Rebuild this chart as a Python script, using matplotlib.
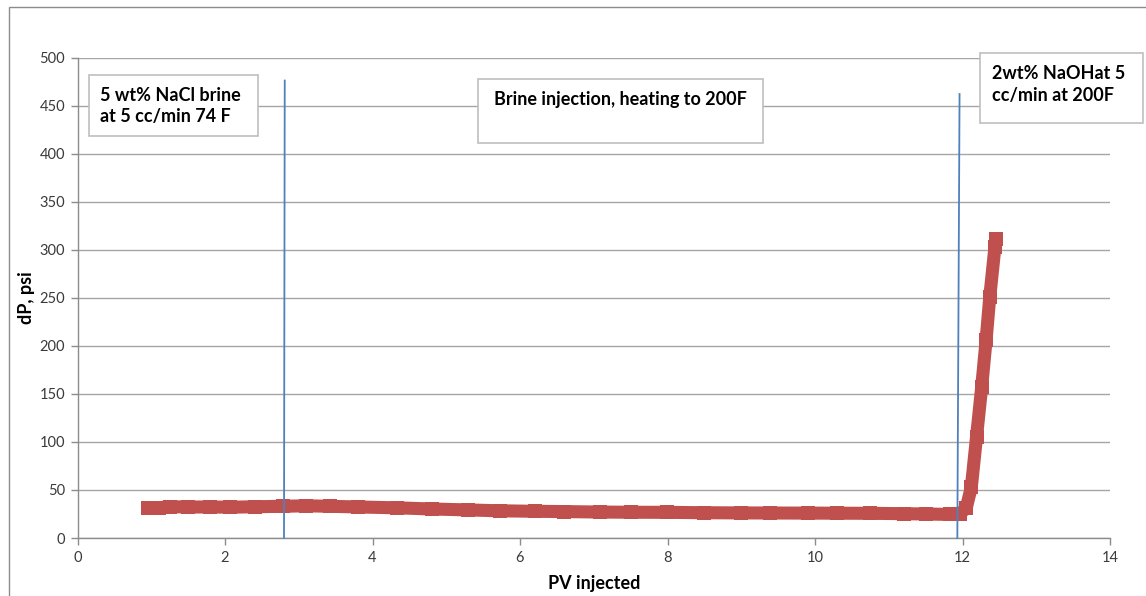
import matplotlib
matplotlib.use("Agg")
import matplotlib.pyplot as plt
from matplotlib.patches import Rectangle

# Pressure drop across the core versus pore volumes injected
pv_injected = [0.96, 1.10, 1.25, 1.50, 1.80, 2.07, 2.40, 2.79, 3.10, 3.42,
               3.80, 4.33, 4.80, 5.30, 5.73, 6.20, 6.60, 7.08, 7.50, 7.99,
               8.50, 9.00, 9.39, 9.90, 10.30, 10.74, 11.20, 11.50, 11.83, 11.96,
               12.05, 12.12, 12.19, 12.26, 12.32, 12.37, 12.44, 12.46]
dp_psi = [30.9, 31.5, 32.6, 32.2, 32.3, 32.0, 32.5, 33.0, 33.5, 33.0,
          32.3, 31.4, 30.2, 29.2, 28.3, 27.8, 27.5, 27.0, 26.8, 26.7,
          26.3, 26.1, 26.0, 25.9, 25.8, 25.7, 25.3, 25.0, 24.5, 25.0,
          31.0, 53.0, 105.0, 157.0, 206.0, 251.0, 303.0, 311.0]

# Stage boundaries (PV) and the height of each marker line (psi)
stage_x_bottom = [2.80, 11.93]
stage_x_top = [2.81, 11.96]
stage_top = [476, 462]

stage_labels = ["5 wt% NaCl brine\nat 5 cc/min 74 F",
                "Brine injection, heating to 200F",
                "2wt% NaOHat 5\ncc/min at 200F"]

x_ticks = list(range(0, 15, 2))
y_ticks = list(range(0, 501, 50))

W, H = 1146, 596
fig = plt.figure(figsize=(W / 100, H / 100), dpi=100)
fig.patch.set_facecolor("white")

def fx(px):
    return px / W

def fy(py):
    return 1 - py / H

ax_l, ax_r, ax_t, ax_b = 77.5, 1110, 57.5, 538
ax = fig.add_axes([fx(ax_l), fy(ax_b), fx(ax_r) - fx(ax_l), fy(ax_t) - fy(ax_b)])
ax.set_xlim(0, 14)
ax.set_ylim(0, 500)
ax.set_xticks(x_ticks)
ax.set_yticks(y_ticks)

grid_c = "#A6A6A6"
ax.yaxis.grid(True, color=grid_c, linewidth=1.0)
ax.set_axisbelow(True)
for s in ["top", "right"]:
    ax.spines[s].set_visible(False)
for s in ["left", "bottom"]:
    ax.spines[s].set_color("#8C8C8C")
    ax.spines[s].set_linewidth(1.0)

ax.tick_params(axis="both", direction="out", length=5, width=1.0, color="#8C8C8C",
               labelsize=10.5, labelcolor="#3A3A3A", pad=4)
for lab in ax.get_xticklabels() + ax.get_yticklabels():
    lab.set_family("Lato")

# Stage separators
for xb, xt, top in zip(stage_x_bottom, stage_x_top, stage_top):
    ax.plot([xb, xt], [0, top], color="#4F81BD", linewidth=1.3, zorder=4,
            clip_on=False)

# dP curve, drawn as densely packed square markers on a thick band
ax.plot(pv_injected, dp_psi, color="#C0504D", linewidth=9.4,
        marker="s", markersize=9.4, markeredgewidth=0,
        solid_capstyle="butt", solid_joinstyle="round", zorder=3)

label_kw = dict(fontsize=13, fontweight="bold", family="Lato", color="black")
ax.set_xlabel("PV injected", **label_kw)
ax.set_ylabel("dP, psi", **label_kw)
ax.xaxis.label.set_va("center")
ax.yaxis.label.set_va("center")
ax.xaxis.set_label_coords(0.5, (ax_b - 583) / (ax_b - ax_t))
ax.yaxis.set_label_coords((26 - ax_l) / (ax_r - ax_l), 0.5)

# Chart area border
fig.patches.append(Rectangle((fx(9), fy(700)), fx(1300) - fx(9), fy(7) - fy(700),
                             transform=fig.transFigure, fill=False,
                             edgecolor="#8C8C8C", linewidth=1.0, zorder=0))

# Annotation boxes
boxes = [(89, 75, 258, 136), (477.7, 79.3, 762.7, 142.7), (980, 53, 1143, 123)]
for (x0, y0, x1, y1) in boxes:
    fig.patches.append(Rectangle((fx(x0), fy(y1)), fx(x1) - fx(x0), fy(y0) - fy(y1),
                                 transform=fig.transFigure, facecolor="white",
                                 edgecolor="#BFBFBF", linewidth=1.2, zorder=5))

txt_kw = dict(fontsize=13, fontweight="bold", family="Lato", color="black",
              zorder=6, linespacing=1.3)
fig.text(fx(100), fy(106), stage_labels[0], ha="left", va="center", **txt_kw)
fig.text(fx(620), fy(99.5), stage_labels[1], ha="center", va="center", **txt_kw)
fig.text(fx(991.5), fy(84.5), stage_labels[2], ha="left", va="center", **txt_kw)

fig.savefig("out.png", dpi=100, facecolor="white")
